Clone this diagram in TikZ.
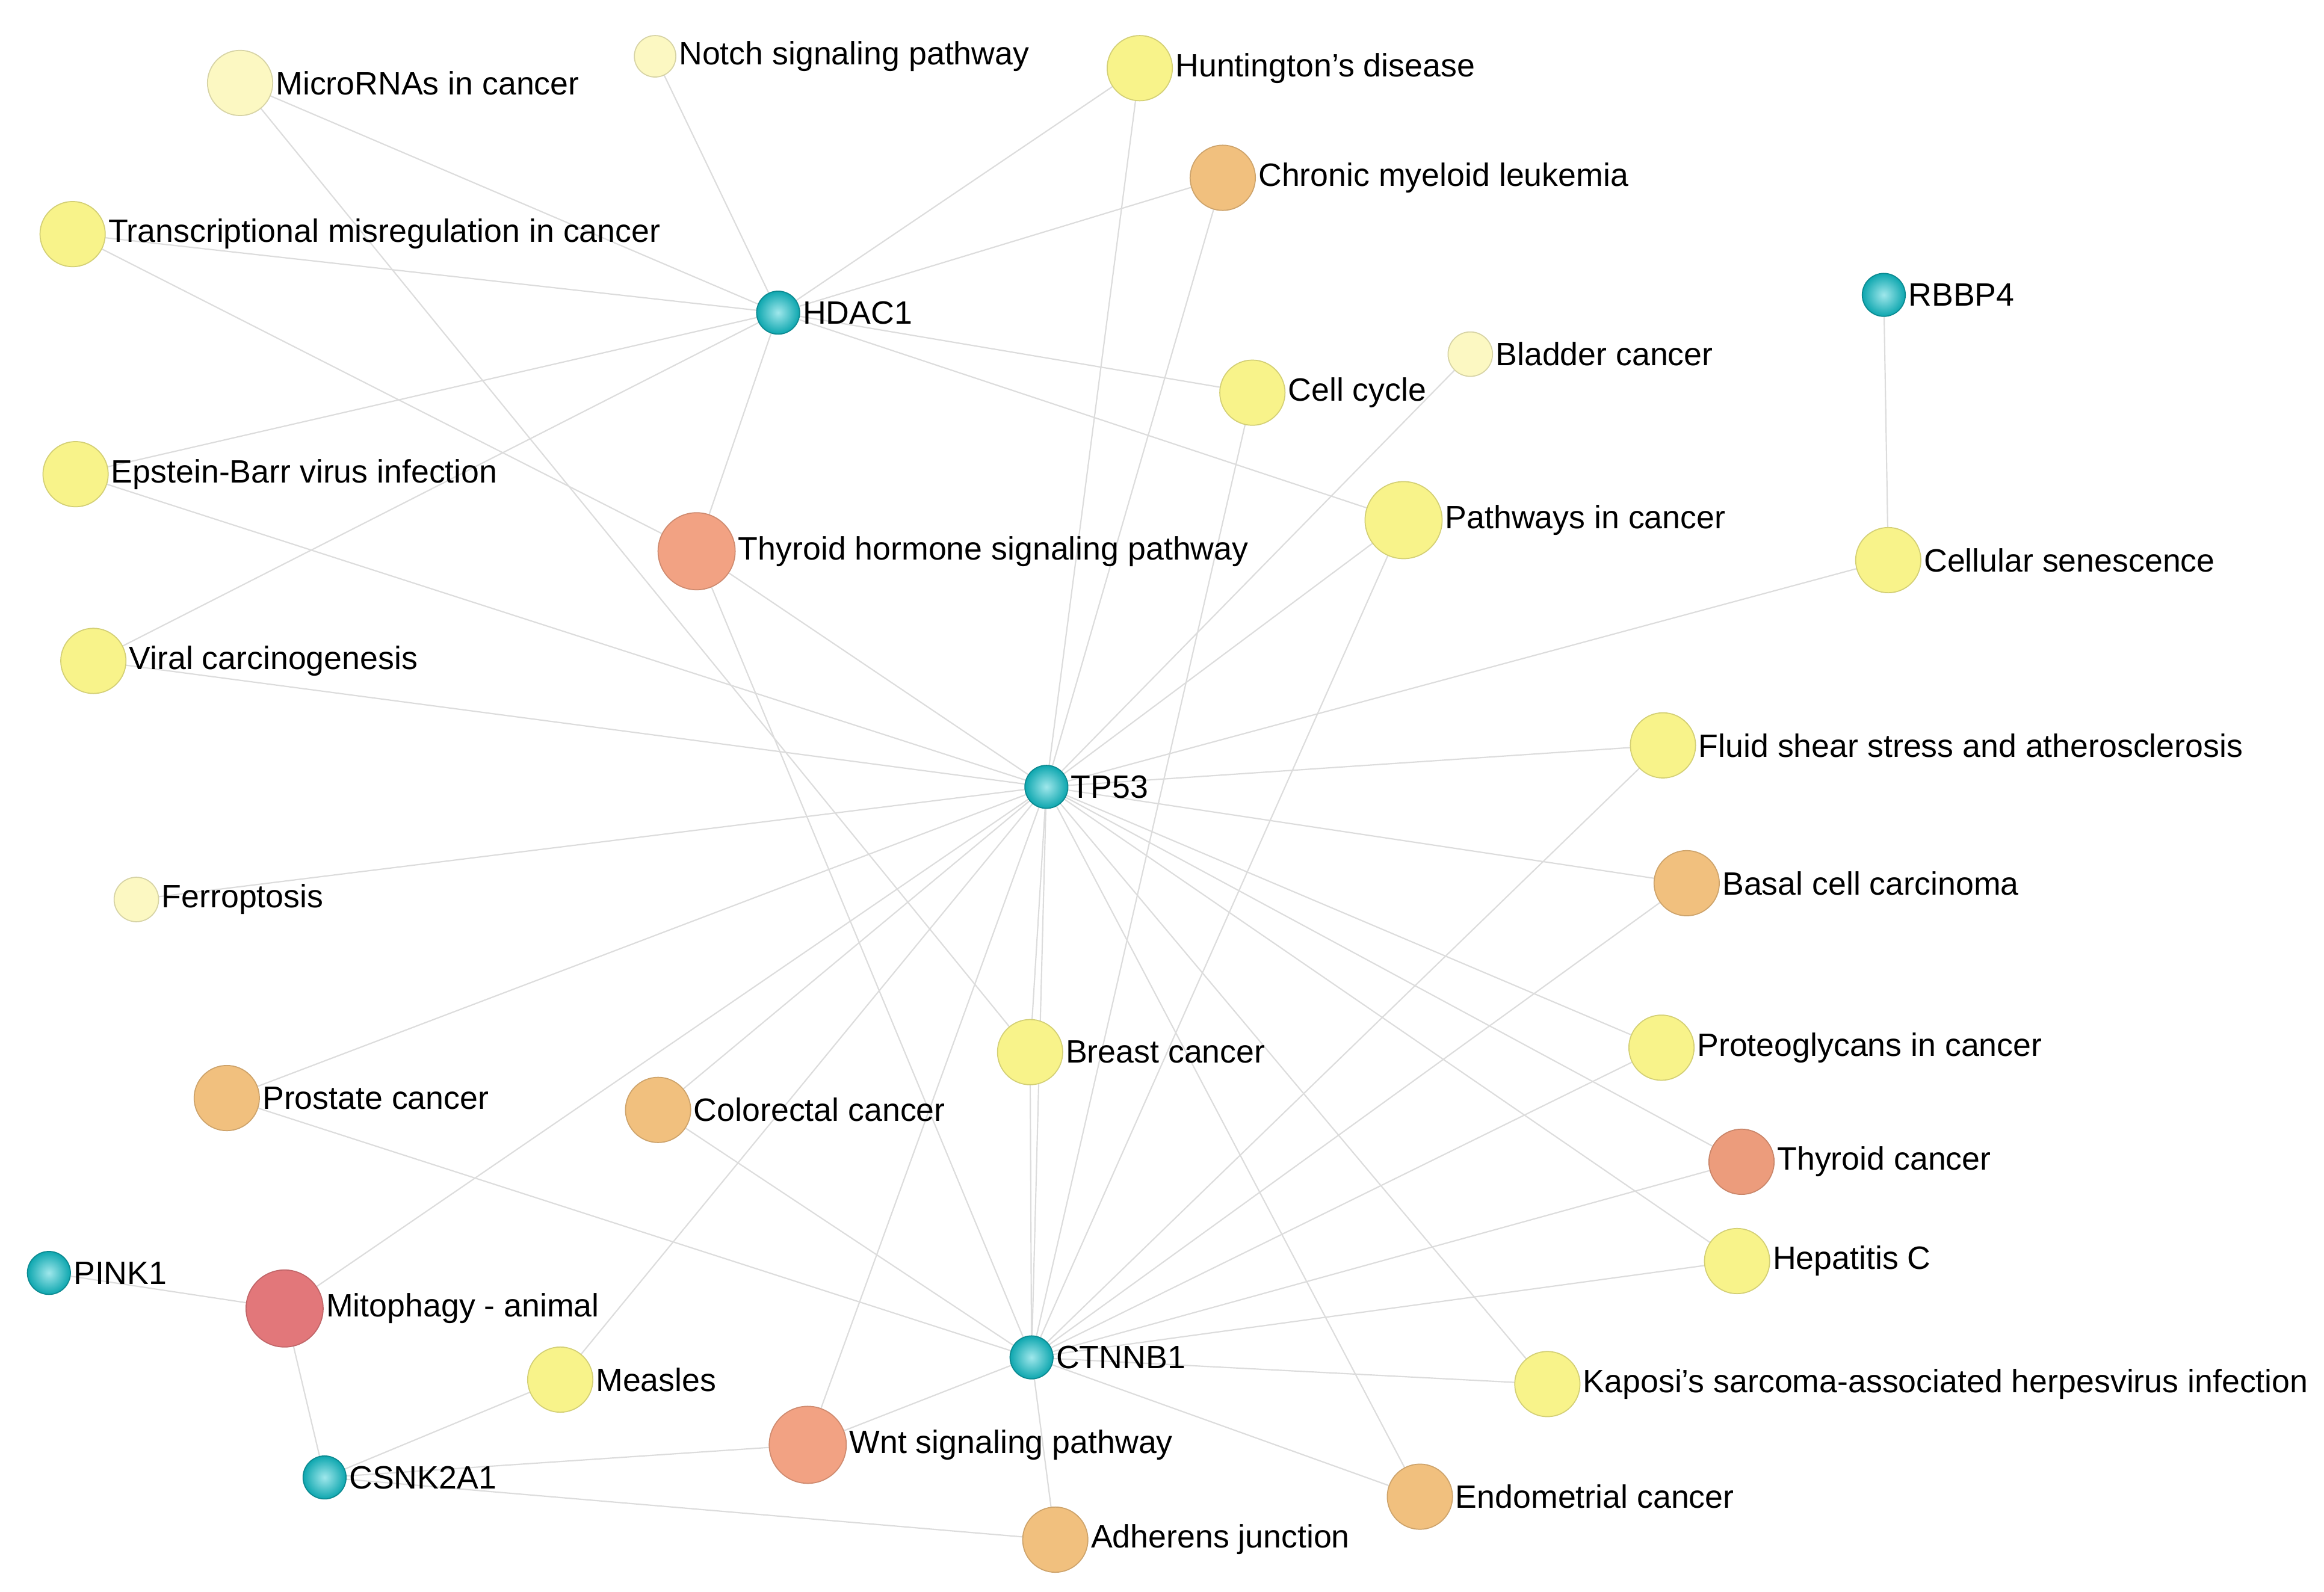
\documentclass[tikz,border=0pt]{standalone}
\usepackage{fontspec}
\setmainfont{Liberation Sans}
\begin{document}
\definecolor{pale}{HTML}{FCF8C2}
\definecolor{yel}{HTML}{F8F38A}
\definecolor{ora}{HTML}{F1C07E}
\definecolor{sal}{HTML}{F2A283}
\definecolor{tc}{HTML}{EC9C7C}
\definecolor{red}{HTML}{E2777A}
\definecolor{cy}{HTML}{10C4CE}
\definecolor{edge}{HTML}{DCDCDC}
\begin{tikzpicture}[x=0.01cm,y=-0.01cm,
  p/.style={circle,inner sep=0pt,minimum size=#1*0.01cm},
  g/.style={circle,inner sep=0pt,minimum size=0.29cm,inner color=cy!40!white,outer color=cy!85!black,draw=cy!70!black,line width=0.2pt},
  lb/.style={anchor=west,font=\fontsize{6.2}{7}\selectfont,inner sep=0.3pt},
  e/.style={draw=edge,line width=0.25pt}]
\useasboundingbox (0,0) rectangle (1568,1074);
\newcommand{\pw}[5]{\node[p=#4,fill=#3,draw=#3!85!black,line width=0.2pt] (#1) at #2 {};\node[lb] at (#1.east) {#5};}
\newcommand{\gn}[3]{\node[g] (#1) at #2 {};\node[lb] at (#1.east) {#3};}
\foreach \n/\x/\y in {mir/162/56,notch/442/38,hunt/769/46,cml/825/120,trans/49/158,hdac/525/211,rbbp/1271/199,blad/992/239,cc/845/265,ebv/51/320,thh/470/372,pic/947/351,sen/1274/378,vir/63/446,tp/706/531,fss/1122/503,fer/92/607,bcc/1138/596,brc/695/710,pro/1121/707,prc/153/741,crc/444/749,thc/1175/784,pink/33/859,mito/192/883,hep/1172/851,ct/696/916,mea/378/931,kap/1044/934,csn/219/997,wnt/545/975,end/958/1010,adh/712/1039}
  {\coordinate (c\n) at (\x,\y);}
\foreach \a/\b in {mir/hdac,notch/hdac,trans/hdac,ebv/hdac,vir/hdac,hunt/hdac,cml/hdac,cc/hdac,pic/hdac,thh/hdac,
 mir/brc,trans/thh,thh/tp,thh/ct,ebv/tp,vir/tp,fer/tp,hunt/tp,cml/tp,pic/tp,sen/tp,fss/tp,bcc/tp,pro/tp,thc/tp,hep/tp,kap/tp,end/tp,brc/tp,crc/tp,prc/tp,mito/tp,wnt/tp,ct/tp,mea/tp,blad/tp,
 cc/ct,pic/ct,fss/ct,bcc/ct,pro/ct,thc/ct,hep/ct,kap/ct,end/ct,wnt/ct,adh/ct,crc/ct,prc/ct,brc/ct,
 sen/rbbp,pink/mito,mito/csn,mea/csn,wnt/csn,adh/csn}
  {\path[e] (c\a) -- (c\b);}
\pw{mir}{(162,56)}{pale}{44}{MicroRNAs in cancer}
\pw{notch}{(442,38)}{pale}{28}{Notch signaling pathway}
\pw{hunt}{(769,46)}{yel}{44}{Huntington{\char"0027}s disease}
\pw{cml}{(825,120)}{ora}{44}{Chronic myeloid leukemia}
\pw{trans}{(49,158)}{yel}{44}{Transcriptional misregulation in cancer}
\pw{blad}{(992,239)}{pale}{30}{Bladder cancer}
\pw{cc}{(845,265)}{yel}{44}{Cell cycle}
\pw{ebv}{(51,320)}{yel}{44}{Epstein-Barr virus infection}
\pw{thh}{(470,372)}{sal}{52}{Thyroid hormone signaling pathway}
\pw{pic}{(947,351)}{yel}{52}{Pathways in cancer}
\pw{sen}{(1274,378)}{yel}{44}{Cellular senescence}
\pw{vir}{(63,446)}{yel}{44}{Viral carcinogenesis}
\pw{fss}{(1122,503)}{yel}{44}{Fluid shear stress and atherosclerosis}
\pw{fer}{(92,607)}{pale}{30}{Ferroptosis}
\pw{bcc}{(1138,596)}{ora}{44}{Basal cell carcinoma}
\pw{brc}{(695,710)}{yel}{44}{Breast cancer}
\pw{pro}{(1121,707)}{yel}{44}{Proteoglycans in cancer}
\pw{prc}{(153,741)}{ora}{44}{Prostate cancer}
\pw{crc}{(444,749)}{ora}{44}{Colorectal cancer}
\pw{thc}{(1175,784)}{tc}{44}{Thyroid cancer}
\pw{mito}{(192,883)}{red}{52}{Mitophagy - animal}
\pw{hep}{(1172,851)}{yel}{44}{Hepatitis C}
\pw{mea}{(378,931)}{yel}{44}{Measles}
\pw{kap}{(1044,934)}{yel}{44}{Kaposi{\char"0027}s sarcoma-associated herpesvirus infection}
\pw{wnt}{(545,975)}{sal}{52}{Wnt signaling pathway}
\pw{end}{(958,1010)}{ora}{44}{Endometrial cancer}
\pw{adh}{(712,1039)}{ora}{44}{Adherens junction}
\gn{hdac}{(525,211)}{HDAC1}
\gn{rbbp}{(1271,199)}{RBBP4}
\gn{tp}{(706,531)}{TP53}
\gn{pink}{(33,859)}{PINK1}
\gn{ct}{(696,916)}{CTNNB1}
\gn{csn}{(219,997)}{CSNK2A1}
\end{tikzpicture}
\end{document}
